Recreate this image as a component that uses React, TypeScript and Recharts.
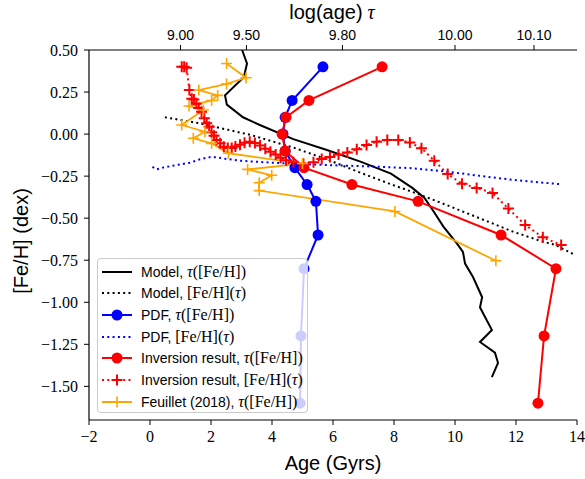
import React from 'react';
import { LineChart, Line, XAxis, YAxis, Legend } from 'recharts';

// ---------- data ----------
const fehLevels = [0.4, 0.2, 0.1, 0.0, -0.1, -0.2, -0.3, -0.4, -0.6, -0.8, -1.2, -1.6];
const pdfTauAges = [5.67, 4.66, 4.43, 4.36, 4.43, 4.75, 5.15, 5.44, 5.51, 5.05, 4.95, 4.92];
const invTauAges = [7.61, 5.21, 4.46, 4.33, 4.43, 5.05, 6.62, 8.79, 11.51, 13.31, 12.92, 12.72];

const modelTauAges = [3.02, 3.18, 3.08, 2.46, 2.52, 3.05, 3.6, 4.7, 5.8, 6.9, 7.9, 8.6, 9.0, 9.3, 9.62, 10.06, 10.26, 10.33, 10.59, 10.89, 10.82, 10.92, 11.21, 10.82, 11.31, 11.41, 11.21];
const modelTauFeh = [0.5, 0.42, 0.34, 0.23, 0.175, 0.1, 0.054, -0.03, -0.095, -0.164, -0.235, -0.32, -0.38, -0.46, -0.55, -0.65, -0.7, -0.77, -0.85, -0.97, -1.03, -1.065, -1.165, -1.236, -1.3, -1.36, -1.445];

const modelFehAges = [0.49, 1.6, 3.3, 4.7, 5.8, 6.9, 8.0, 8.7, 9.7, 10.8, 11.9, 12.8, 13.3, 13.95];
const modelFehValues = [0.1, 0.065, -0.005, -0.08, -0.15, -0.23, -0.305, -0.35, -0.42, -0.5, -0.58, -0.635, -0.66, -0.72];

const pdfFehAges = [0.08, 0.22, 0.45, 0.87, 1.31, 1.64, 1.91, 2.18, 2.51, 2.95, 3.61, 4.4, 5.8, 7.5, 8.6, 9.7, 10.8, 11.9, 13.45];
const pdfFehValues = [-0.195, -0.21, -0.198, -0.184, -0.17, -0.15, -0.138, -0.138, -0.148, -0.158, -0.166, -0.174, -0.184, -0.194, -0.203, -0.222, -0.248, -0.272, -0.298];

const invFehAges = [1.04, 1.12, 1.2, 1.29, 1.37, 1.44, 1.52, 1.6, 1.69, 1.78, 1.86, 1.94, 2.02, 2.1, 2.18, 2.3, 2.42, 2.55, 2.68, 2.8, 2.95, 3.1, 3.27, 3.44, 3.61, 3.78, 3.95, 4.12, 4.28, 4.46, 4.7, 5.03, 5.36, 5.63, 5.9, 6.18, 6.47, 6.78, 7.1, 7.43, 7.78, 8.14, 8.52, 8.9, 9.32, 9.76, 10.23, 10.71, 11.23, 11.75, 12.3, 12.88, 13.48];
const invFehValues = [0.4, 0.4, 0.395, 0.262, 0.21, 0.205, 0.18, 0.155, 0.133, 0.094, 0.064, 0.044, 0.011, -0.01, -0.035, -0.055, -0.075, -0.083, -0.082, -0.074, -0.063, -0.051, -0.045, -0.053, -0.068, -0.087, -0.105, -0.122, -0.14, -0.155, -0.168, -0.177, -0.168, -0.148, -0.136, -0.122, -0.11, -0.09, -0.065, -0.045, -0.035, -0.035, -0.05, -0.084, -0.158, -0.238, -0.295, -0.32, -0.35, -0.443, -0.54, -0.614, -0.659];

const feuilletAges = [2.51, 3.15, 2.51, 1.6, 2.22, 2.02, 1.28, 1.75, 1.04, 1.8, 1.42, 2.02, 2.57, 5.0, 3.2, 3.99, 3.58, 3.58, 8.03, 11.34];
const feuilletFeh = [0.42, 0.335, 0.298, 0.262, 0.23, 0.2, 0.167, 0.143, 0.054, 0.014, -0.025, -0.055, -0.114, -0.175, -0.21, -0.245, -0.289, -0.336, -0.46, -0.753];

const xTicks = [-2, 0, 2, 4, 6, 8, 10, 12, 14];
const yTicks = [0.5, 0.25, 0.0, -0.25, -0.5, -0.75, -1.0, -1.25, -1.5];
const topTickLogs = [9.0, 9.5, 9.8, 10.0, 10.1];

const legendLabels = [
  ['Model, ', 'tau'],
  ['Model, ', 'feh'],
  ['PDF, ', 'tau'],
  ['PDF, ', 'feh'],
  ['Inversion result, ', 'tau'],
  ['Inversion result, ', 'feh'],
  ['Feuillet (2018), ', 'tau'],
];

// ---------- helpers ----------
const pts = (xs: number[], ys: number[]) => xs.map((x, i) => ({ x, y: ys[i] }));
const topTickAges = topTickLogs.map((l) => Math.pow(10, l - 9));
const topLabelFor = (v: number) => {
  let best = 0;
  topTickAges.forEach((a, i) => {
    if (Math.abs(a - v) < Math.abs(topTickAges[best] - v)) best = i;
  });
  return topTickLogs[best].toFixed(2);
};
const minus = (s: string) => s.replace('-', '\u2212');

const SANS = '"Liberation Sans", Arial, sans-serif';
const SERIF = '"Liberation Serif", "Times New Roman", serif';
const BLUE = '#0000ff';
const RED = '#ff0000';
const ORANGE = '#ffa500';
const DOT = '2 3.3';

const W = 585;
const H = 479;

const crossDot = (color: string, size: number, sw: number) => (p: any) => {
  const { cx, cy, index } = p;
  if (cx == null || cy == null) return <g key={`c${index}`} />;
  return (
    <path
      key={`c${index}`}
      d={`M${cx - size},${cy}H${cx + size}M${cx},${cy - size}V${cy + size}`}
      stroke={color}
      strokeWidth={sw}
      fill="none"
    />
  );
};

const circleDot = (color: string) => (p: any) => {
  const { cx, cy, index } = p;
  if (cx == null || cy == null) return <g key={`o${index}`} />;
  return <circle key={`o${index}`} cx={cx} cy={cy} r={5.5} fill={color} stroke="none" />;
};

const MathTau = () => (
  <span style={{ fontFamily: SERIF, fontSize: 16 }}>
    <i>τ</i>([Fe/H])
  </span>
);
const MathFeh = () => (
  <span style={{ fontFamily: SERIF, fontSize: 16 }}>
    [Fe/H](<i>τ</i>)
  </span>
);

const sampleStyles = [
  { color: '#000', dash: undefined, marker: null },
  { color: '#000', dash: DOT, marker: null },
  { color: BLUE, dash: undefined, marker: 'circle' },
  { color: BLUE, dash: DOT, marker: null },
  { color: RED, dash: undefined, marker: 'circle' },
  { color: RED, dash: DOT, marker: 'cross' },
  { color: ORANGE, dash: undefined, marker: 'cross' },
];

const LegendBox = () => (
  <div
    style={{
      width: 211,
      height: 155,
      boxSizing: 'border-box',
      background: 'rgba(255,255,255,0.8)',
      border: '1px solid #cccccc',
      borderRadius: 4,
      position: 'relative',
    }}
  >
    {legendLabels.map((lab, i) => {
      const s = sampleStyles[i];
      const cy = 12.5 + i * 21.7;
      return (
        <React.Fragment key={i}>
          <svg
            width={34}
            height={16}
            style={{ position: 'absolute', left: 2, top: cy - 8, overflow: 'visible' }}
          >
            <line x1={2} y1={8} x2={32} y2={8} stroke={s.color} strokeWidth={2} strokeDasharray={s.dash} />
            {s.marker === 'circle' && <circle cx={17} cy={8} r={5.5} fill={s.color} />}
            {s.marker === 'cross' && (
              <path d="M11.5,8H22.5M17,2.5V13.5" stroke={s.color} strokeWidth={s.color === ORANGE ? 1.6 : 2} />
            )}
          </svg>
          <div
            style={{
              position: 'absolute',
              left: 43,
              top: cy - 10,
              height: 20,
              lineHeight: '20px',
              whiteSpace: 'nowrap',
              fontFamily: SANS,
              fontSize: 14,
              color: '#000',
            }}
          >
            {lab[0]}
            {lab[1] === 'tau' ? <MathTau /> : <MathFeh />}
          </div>
        </React.Fragment>
      );
    })}
  </div>
);

export default function App() {
  return (
    <div style={{ position: 'absolute', left: 0, top: 0, width: W, height: H, background: '#fff' }}>
      <LineChart width={W} height={H} margin={{ top: 20, right: 8, bottom: 19, left: 29 }}>
        <XAxis
          xAxisId="bottom"
          type="number"
          dataKey="x"
          domain={[-2, 14]}
          allowDataOverflow
          ticks={xTicks}
          interval={0}
          height={40}
          tickSize={5}
          tickMargin={6}
          axisLine={{ stroke: '#000', strokeWidth: 1.2 }}
          tickLine={{ stroke: '#000', strokeWidth: 1 }}
          tick={{ fontFamily: SERIF, fontSize: 16, fill: '#000' }}
          tickFormatter={(v: number) => minus(String(v))}
          label={() => (
            <text x={333} y={470} textAnchor="middle" fontFamily={SANS} fontSize={20} fill="#000">
              Age (Gyrs)
            </text>
          )}
        />
        <XAxis
          xAxisId="top"
          orientation="top"
          type="number"
          dataKey="x"
          domain={[-2, 14]}
          allowDataOverflow
          ticks={topTickAges}
          interval={0}
          height={30}
          tickSize={5}
          tickMargin={5}
          axisLine={{ stroke: '#000', strokeWidth: 1.2 }}
          tickLine={{ stroke: '#000', strokeWidth: 1 }}
          tick={{ fontFamily: SANS, fontSize: 14, fill: '#000' }}
          tickFormatter={topLabelFor}
          label={() => (
            <text x={332} y={19} textAnchor="middle" fontFamily={SANS} fontSize={20} fill="#000">
              log(age)
              <tspan fontFamily={SERIF} fontStyle="italic">
                {' '}τ
              </tspan>
            </text>
          )}
        />
        <YAxis
          yAxisId="left"
          type="number"
          dataKey="y"
          domain={[-1.7, 0.5]}
          allowDataOverflow
          ticks={yTicks}
          interval={0}
          width={60}
          tickSize={5}
          tickMargin={6}
          axisLine={{ stroke: '#000', strokeWidth: 1.2 }}
          tickLine={{ stroke: '#000', strokeWidth: 1 }}
          tick={{ fontFamily: SERIF, fontSize: 16, fill: '#000' }}
          tickFormatter={(v: number) => minus(v.toFixed(2))}
          label={() => (
            <text
              x={21}
              y={241}
              transform="rotate(-90, 21, 241)"
              textAnchor="middle"
              dominantBaseline="central"
              fontFamily={SANS}
              fontSize={20}
              fill="#000"
            >
              [Fe/H] (dex)
            </text>
          )}
        />
        <YAxis
          yAxisId="right"
          orientation="right"
          type="number"
          domain={[-1.7, 0.5]}
          allowDataOverflow
          width={0}
          tick={false}
          tickLine={false}
          axisLine={{ stroke: '#000', strokeWidth: 1.2 }}
        />

        <Line
          xAxisId="bottom"
          yAxisId="left"
          data={pts(modelTauAges, modelTauFeh)}
          dataKey="y"
          stroke="#000"
          strokeWidth={2}
          dot={false}
          activeDot={false}
          type="linear"
          isAnimationActive={false}
        />
        <Line
          xAxisId="bottom"
          yAxisId="left"
          data={pts(modelFehAges, modelFehValues)}
          dataKey="y"
          stroke="#000"
          strokeWidth={2}
          strokeDasharray={DOT}
          dot={false}
          activeDot={false}
          type="linear"
          isAnimationActive={false}
        />
        <Line
          xAxisId="bottom"
          yAxisId="left"
          data={pts(pdfTauAges, fehLevels)}
          dataKey="y"
          stroke={BLUE}
          strokeWidth={2}
          dot={circleDot(BLUE)}
          activeDot={false}
          type="linear"
          isAnimationActive={false}
        />
        <Line
          xAxisId="bottom"
          yAxisId="left"
          data={pts(pdfFehAges, pdfFehValues)}
          dataKey="y"
          stroke={BLUE}
          strokeWidth={2}
          strokeDasharray={DOT}
          dot={false}
          activeDot={false}
          type="linear"
          isAnimationActive={false}
        />
        <Line
          xAxisId="bottom"
          yAxisId="left"
          data={pts(invTauAges, fehLevels)}
          dataKey="y"
          stroke={RED}
          strokeWidth={2}
          dot={circleDot(RED)}
          activeDot={false}
          type="linear"
          isAnimationActive={false}
        />
        <Line
          xAxisId="bottom"
          yAxisId="left"
          data={pts(invFehAges, invFehValues)}
          dataKey="y"
          stroke={RED}
          strokeWidth={2}
          strokeDasharray={DOT}
          dot={crossDot(RED, 5.5, 2)}
          activeDot={false}
          type="linear"
          isAnimationActive={false}
        />
        <Line
          xAxisId="bottom"
          yAxisId="left"
          data={pts(feuilletAges, feuilletFeh)}
          dataKey="y"
          stroke={ORANGE}
          strokeWidth={1.8}
          dot={crossDot(ORANGE, 5.5, 1.6)}
          activeDot={false}
          type="linear"
          isAnimationActive={false}
        />
        <Legend
          layout="horizontal"
          verticalAlign="middle"
          align="center"
          wrapperStyle={{ left: 97, top: 258, width: 211, height: 155 }}
          content={() => <LegendBox />}
        />
      </LineChart>
    </div>
  );
}
